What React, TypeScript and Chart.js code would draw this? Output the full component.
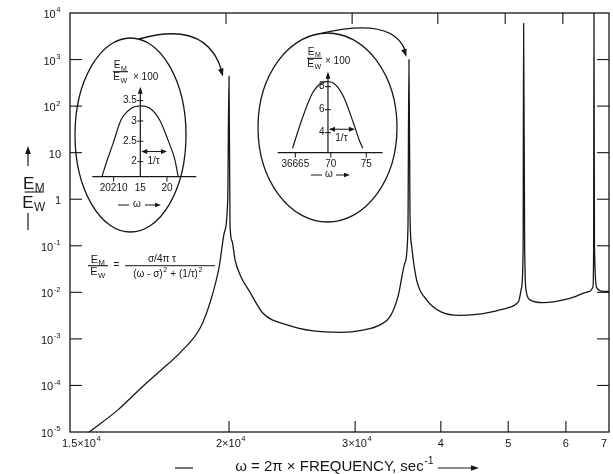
import React, { useEffect, useRef } from 'react';
import { Chart, registerables, LinearScale } from 'chart.js';

const INK = '#161616';
const FONT = '"Liberation Sans", "DejaVu Sans", Arial, sans-serif';

// ===== Main axis (hand-drawn, non-uniform ω axis) =====
const xTickValues = [15000, 20000, 30000, 40000, 50000, 60000, 70000];
const xTickFractions = [0, 0.295, 0.529, 0.688, 0.813, 0.92, 1];
const xTickBase = ['1.5×10', '2×10', '3×10', '4', '5', '6', '7'];
const xTickSup = ['4', '4', '4', '', '', '', ''];
const yTickValues = [1e4, 1e3, 1e2, 10, 1, 1e-1, 1e-2, 1e-3, 1e-4, 1e-5];
const yTickBase = ['10', '10', '10', '10', '1', '10', '10', '10', '10', '10'];
const yTickSup = ['4', '3', '2', '', '', '-1', '-2', '-3', '-4', '-5'];

// ===== Main curve: E_M / E_W versus ω =====
const omega = [
  15600, 16500, 17270, 17850, 18480, 19110, 19430, 19690, 19850, 19960,
  20000, 20080, 20240, 20480, 20870, 21670, 22700, 24600, 26670, 28810,
  30930, 32910, 34070, 35000, 35810, 36160, 36280, 36400, 36590, 37170,
  38340, 40030, 42840, 46310, 49810, 51780, 52330, 52590, 52670, 52850,
  53100, 53790, 56090, 60930, 65580, 66280, 66440, 66510, 66630, 67140,
  68670, 70000,
];
const ratio = [
  1e-5, 2.95e-5, 9.3e-5, 2.1e-4, 5.2e-4, 1.8e-3, 6.9e-3, 0.035, 0.19, 1.0,
  440, 0.28, 0.126, 0.05, 0.024, 0.01, 3.55e-3, 2.0e-3, 1.48e-3, 1.38e-3,
  1.55e-3, 2.0e-3, 3.0e-3, 8.1e-3, 0.043, 0.22, 1000, 0.5, 0.1, 0.0186,
  6.9e-3, 3.8e-3, 3.2e-3, 3.5e-3, 4.6e-3, 6.3e-3, 0.013, 0.1, 6000, 0.1,
  0.011, 6.9e-3, 6.0e-3, 7.4e-3, 0.0105, 0.013, 0.1, 10000, 0.1, 0.0126,
  0.0105, 0.0105,
];

// ===== Inset A: first resonance (×100) =====
const insetAOmega = [20207.8, 20208.8, 20209.9, 20211.4, 20213.3, 20215, 20216.8, 20218.6, 20220.2, 20221.5, 20222.1];
const insetARatio = [1.63, 2.04, 2.45, 3.03, 3.31, 3.37, 3.31, 3.03, 2.53, 2.04, 1.63];
const insetAXTicks = [20210, 20215, 20220];
const insetAXLabels = ['20210', '15', '20'];
const insetAYTicks = [2, 2.5, 3, 3.5];
const insetAYLabels = ['2', '2.5', '3', '3.5'];
const insetACenter = 20215;
const insetATauEnd = 20220;
const insetATauLevel = 2.25;

// ===== Inset B: second resonance (×100) =====
const insetBOmega = [36664.6, 36665.9, 36667.4, 36668.8, 36669.5, 36670.4, 36671.8, 36673.2, 36674.0, 36674.5];
const insetBRatio = [2.64, 5.1, 7.43, 8.35, 8.43, 8.3, 7.13, 4.82, 3.37, 2.64];
const insetBXTicks = [36665, 36670, 36675];
const insetBXLabels = ['36665', '70', '75'];
const insetBYTicks = [4, 6, 8];
const insetBYLabels = ['4', '6', '8'];
const insetBCenter = 36669.6;
const insetBTauEnd = 36673.4;
const insetBTauLevel = 4.3;

// inset axis ranges and their placement (canvas px) inside the ellipses
const insetAxes: Record<string, { min: number; max: number; pxMin: number; pxMax: number }> = {
  ia_x: { min: 20206, max: 20225.5, pxMin: 92.3, pxMax: 196.3 },
  ia_y: { min: 1.63, max: 3.84, pxMin: 176.7, pxMax: 86.8 },
  ib_x: { min: 36662.5, max: 36677.3, pxMin: 277.6, pxMax: 382.6 },
  ib_y: { min: 2.26, max: 9.3, pxMin: 152.7, pxMax: 71.7 },
};

function warpFraction(v: number) {
  const xs = xTickValues, fs = xTickFractions;
  let i = 0;
  while (i < xs.length - 2 && v > xs[i + 1]) i++;
  return fs[i] + ((v - xs[i]) / (xs[i + 1] - xs[i])) * (fs[i + 1] - fs[i]);
}
function unwarp(f: number) {
  const xs = xTickValues, fs = xTickFractions;
  let i = 0;
  while (i < fs.length - 2 && f > fs[i + 1]) i++;
  return xs[i] + ((f - fs[i]) / (fs[i + 1] - fs[i])) * (xs[i + 1] - xs[i]);
}

class WarpScale extends LinearScale {
  static id = 'warp';
  static defaults = LinearScale.defaults;
  getPixelForValue(value: number) {
    const ca = (this as any).chart.chartArea;
    return ca.left + warpFraction(value) * (ca.right - ca.left);
  }
  getValueForPixel(pixel: number) {
    const ca = (this as any).chart.chartArea;
    return unwarp((pixel - ca.left) / (ca.right - ca.left));
  }
}

class BoxScale extends LinearScale {
  static id = 'box';
  static defaults = LinearScale.defaults;
  getPixelForValue(value: number) {
    const c = insetAxes[(this as any).id];
    return c.pxMin + ((value - c.min) / (c.max - c.min)) * (c.pxMax - c.pxMin);
  }
  getValueForPixel(pixel: number) {
    const c = insetAxes[(this as any).id];
    return c.min + ((pixel - c.pxMin) / (c.pxMax - c.pxMin)) * (c.max - c.min);
  }
}

Chart.register(...registerables, WarpScale, BoxScale);

type Part = [string, 'n' | 'sup' | 'sub'];

function runs(ctx: CanvasRenderingContext2D, parts: Part[], x: number, y: number, size: number, align: 'left' | 'center' | 'right') {
  const sz = (k: string) => (k === 'n' ? size : size * 0.7);
  let total = 0;
  const widths = parts.map(([t, k]) => {
    ctx.font = `${sz(k)}px ${FONT}`;
    const w = ctx.measureText(t).width + (k === 'n' ? 0 : 1);
    total += w;
    return w;
  });
  let cx = align === 'left' ? x : align === 'right' ? x - total : x - total / 2;
  ctx.textAlign = 'left';
  ctx.textBaseline = 'middle';
  parts.forEach(([t, k], i) => {
    ctx.font = `${sz(k)}px ${FONT}`;
    const dy = k === 'sup' ? -size * 0.42 : k === 'sub' ? size * 0.3 : 0;
    ctx.fillText(t, cx + (k === 'n' ? 0 : 0.5), y + dy);
    cx += widths[i];
  });
}

function seg(ctx: CanvasRenderingContext2D, x1: number, y1: number, x2: number, y2: number) {
  ctx.beginPath();
  ctx.moveTo(x1, y1);
  ctx.lineTo(x2, y2);
  ctx.stroke();
}

function head(ctx: CanvasRenderingContext2D, x: number, y: number, ang: number, len = 7, half = 2.6) {
  const c = Math.cos(ang), s = Math.sin(ang);
  ctx.beginPath();
  ctx.moveTo(x, y);
  ctx.lineTo(x - len * c + half * s, y - len * s - half * c);
  ctx.lineTo(x - len * c - half * s, y - len * s + half * c);
  ctx.closePath();
  ctx.fill();
}

function emew(ctx: CanvasRenderingContext2D, cx: number, yBar: number, halfW: number, size: number, up: number, down: number) {
  runs(ctx, [['E', 'n'], ['M', 'sub']], cx, yBar - up, size, 'center');
  ctx.lineWidth = 1.1;
  seg(ctx, cx - halfW, yBar, cx + halfW, yBar);
  runs(ctx, [['E', 'n'], ['W', 'sub']], cx, yBar + down, size, 'center');
}

function drawInset(
  ctx: CanvasRenderingContext2D, X: any, Y: any, xid: string, yid: string,
  center: number, xTicks: number[], xLabels: string[], yTicks: number[], yLabels: string[],
  tauEnd: number, tauLevel: number,
) {
  const cx = insetAxes[xid], cy = insetAxes[yid];
  const y0 = Y.getPixelForValue(cy.min);
  const yTop = Y.getPixelForValue(cy.max);
  const xa = X.getPixelForValue(center);
  ctx.lineWidth = 1.2;
  seg(ctx, X.getPixelForValue(cx.min), y0, X.getPixelForValue(cx.max), y0);
  seg(ctx, xa, y0, xa, yTop + 4);
  head(ctx, xa, yTop, -Math.PI / 2, 7, 2.4);
  ctx.lineWidth = 1;
  yTicks.forEach((v, i) => {
    const py = Y.getPixelForValue(v);
    seg(ctx, xa - 3, py, xa + 3, py);
    runs(ctx, [[yLabels[i], 'n']], xa - 3.5, py, 10, 'right');
  });
  xTicks.forEach((v, i) => {
    const px = X.getPixelForValue(v);
    if (Math.abs(px - xa) > 2) seg(ctx, px, y0, px, y0 + 5);
    runs(ctx, [[xLabels[i], 'n']], px, y0 + 12, 10, 'center');
  });
  // 1/τ double arrow
  const ty = Y.getPixelForValue(tauLevel);
  const tx = X.getPixelForValue(tauEnd);
  seg(ctx, xa + 2, ty, tx - 2, ty);
  head(ctx, xa + 1, ty, Math.PI, 6, 2.4);
  head(ctx, tx, ty, 0, 6, 2.4);
  runs(ctx, [['1/τ', 'n']], (xa + tx) / 2, ty + 9.5, 10, 'center');
}

const decor = {
  id: 'decor',
  afterDraw(chart: any) {
    const ctx: CanvasRenderingContext2D = chart.ctx;
    const ca = chart.chartArea;
    const xs = chart.scales.x, ys = chart.scales.y;
    ctx.save();
    ctx.strokeStyle = INK;
    ctx.fillStyle = INK;
    ctx.lineCap = 'butt';

    // frame
    ctx.lineWidth = 1.3;
    ctx.strokeRect(ca.left, ca.top, ca.right - ca.left, ca.bottom - ca.top);
    ctx.lineWidth = 1.1;
    xTickValues.forEach((v, i) => {
      const px = xs.getPixelForValue(v);
      if (i > 0 && i < xTickValues.length - 1) {
        seg(ctx, px, ca.bottom, px, ca.bottom - 11);
        seg(ctx, px - 3, ca.top, px - 3, ca.top + 11);
      }
      if (i === 0) runs(ctx, [[xTickBase[i], 'n'], [xTickSup[i], 'sup']], px - 8, ca.bottom + 12, 11, 'left');
      else if (i === xTickValues.length - 1) runs(ctx, [[xTickBase[i], 'n']], px - 5, ca.bottom + 12, 11, 'center');
      else if (xTickSup[i]) runs(ctx, [[xTickBase[i], 'n'], [xTickSup[i], 'sup']], px + 2, ca.bottom + 12, 11, 'center');
      else runs(ctx, [[xTickBase[i], 'n']], px, ca.bottom + 12, 11, 'center');
    });
    yTickValues.forEach((v, i) => {
      const py = ys.getPixelForValue(v);
      if (i > 0 && i < yTickValues.length - 1) {
        seg(ctx, ca.left, py, ca.left + 12, py);
        seg(ctx, ca.right, py, ca.right - 12, py);
      }
      const parts: Part[] = [[yTickBase[i], 'n']];
      if (yTickSup[i]) parts.push([yTickSup[i], 'sup']);
      runs(ctx, parts, 61, py + 2, 11, 'right');
    });

    // x axis title
    ctx.lineWidth = 1.2;
    seg(ctx, 175, 468, 193, 468);
    runs(ctx, [['ω = 2π × FREQUENCY, sec', 'n'], ['-1', 'sup']], 434, 467, 15, 'right');
    seg(ctx, 438, 468, 472, 468);
    head(ctx, 479, 468, 0, 8, 2.8);

    // y axis title
    seg(ctx, 28, 166, 28, 152);
    head(ctx, 28, 146, -Math.PI / 2, 8, 2.8);
    emew(ctx, 34, 192, 9.5, 17, 8, 11);
    ctx.lineWidth = 1.2;
    seg(ctx, 28, 213, 28, 230);

    // ellipses
    ctx.lineWidth = 1.3;
    ctx.beginPath();
    ctx.ellipse(130.5, 135, 55.5, 97, 0, 0, Math.PI * 2);
    ctx.stroke();
    ctx.beginPath();
    ctx.ellipse(327.5, 127.5, 69.5, 94.5, 0, 0, Math.PI * 2);
    ctx.stroke();

    // pointer arcs
    ctx.beginPath();
    ctx.moveTo(139, 39);
    ctx.quadraticCurveTo(206, 20, 221.5, 70);
    ctx.stroke();
    head(ctx, 223, 76.5, Math.atan2(56, 17), 8, 2.8);
    ctx.beginPath();
    ctx.moveTo(322, 33.2);
    ctx.quadraticCurveTo(392, 17, 405, 50);
    ctx.stroke();
    head(ctx, 406.5, 57, Math.atan2(40, 14), 8, 2.8);

    // insets
    drawInset(ctx, chart.scales.ia_x, chart.scales.ia_y, 'ia_x', 'ia_y', insetACenter,
      insetAXTicks, insetAXLabels, insetAYTicks, insetAYLabels, insetATauEnd, insetATauLevel);
    drawInset(ctx, chart.scales.ib_x, chart.scales.ib_y, 'ib_x', 'ib_y', insetBCenter,
      insetBXTicks, insetBXLabels, insetBYTicks, insetBYLabels, insetBTauEnd, insetBTauLevel);

    // inset headings
    emew(ctx, 120.5, 71.7, 7.5, 10, 6, 6);
    runs(ctx, [['× 100', 'n']], 133, 77, 10, 'left');
    emew(ctx, 314.5, 58.3, 7.5, 10, 6, 6);
    runs(ctx, [['× 100', 'n']], 325, 61, 10, 'left');

    // inset "— ω →"
    ctx.lineWidth = 1;
    seg(ctx, 118, 205, 129, 205);
    runs(ctx, [['ω', 'n']], 137, 204, 10, 'center');
    seg(ctx, 145, 205, 156, 205);
    head(ctx, 161, 205, 0, 6, 2.3);
    seg(ctx, 311, 175, 322, 175);
    runs(ctx, [['ω', 'n']], 329, 174, 10, 'center');
    seg(ctx, 336, 175, 345, 175);
    head(ctx, 350, 175, 0, 6, 2.3);

    // formula
    emew(ctx, 98, 265.7, 10, 11, 6, 6.5);
    runs(ctx, [['=', 'n']], 116.5, 265.5, 10, 'center');
    runs(ctx, [['σ/4π τ', 'n']], 162, 259.5, 10, 'center');
    ctx.lineWidth = 1;
    seg(ctx, 125, 265.7, 215, 265.7);
    runs(ctx, [['(ω - σ)', 'n'], ['2', 'sup'], [' + (1/τ)', 'n'], ['2', 'sup']], 168, 274.5, 10, 'center');

    ctx.restore();
  },
};

const lineStyle = {
  borderColor: INK,
  borderWidth: 1.3,
  pointRadius: 0,
  fill: false,
  cubicInterpolationMode: 'monotone' as const,
};

export default function App() {
  const ref = useRef<HTMLCanvasElement>(null);
  useEffect(() => {
    const chart = new Chart(ref.current!, {
      type: 'line',
      data: {
        datasets: [
          { ...lineStyle, data: omega.map((w, i) => ({ x: w, y: ratio[i] })), xAxisID: 'x', yAxisID: 'y' },
          { ...lineStyle, borderWidth: 1.2, data: insetAOmega.map((w, i) => ({ x: w, y: insetARatio[i] })), xAxisID: 'ia_x', yAxisID: 'ia_y' },
          { ...lineStyle, borderWidth: 1.2, data: insetBOmega.map((w, i) => ({ x: w, y: insetBRatio[i] })), xAxisID: 'ib_x', yAxisID: 'ib_y' },
        ],
      } as any,
      options: {
        responsive: false,
        animation: false,
        events: [],
        layout: { padding: { left: 70, right: 4, top: 13, bottom: 42 } },
        plugins: { legend: { display: false }, tooltip: { enabled: false } },
        scales: {
          x: { type: 'warp', min: 15000, max: 70000, display: false, bounds: 'data' },
          y: { type: 'logarithmic', min: 1e-5, max: 1e4, display: false, bounds: 'data' },
          ia_x: { type: 'box', axis: 'x', position: 'bottom', min: insetAxes.ia_x.min, max: insetAxes.ia_x.max, display: false, bounds: 'data' },
          ia_y: { type: 'box', axis: 'y', position: 'left', min: insetAxes.ia_y.min, max: insetAxes.ia_y.max, display: false, bounds: 'data' },
          ib_x: { type: 'box', axis: 'x', position: 'bottom', min: insetAxes.ib_x.min, max: insetAxes.ib_x.max, display: false, bounds: 'data' },
          ib_y: { type: 'box', axis: 'y', position: 'left', min: insetAxes.ib_y.min, max: insetAxes.ib_y.max, display: false, bounds: 'data' },
        },
      } as any,
      plugins: [decor],
    });
    return () => chart.destroy();
  }, []);
  return (
    <div style={{ position: 'absolute', left: 0, top: 0, width: 613, height: 474, background: '#fff' }}>
      <canvas ref={ref} width={613} height={474} style={{ display: 'block' }} />
    </div>
  );
}
